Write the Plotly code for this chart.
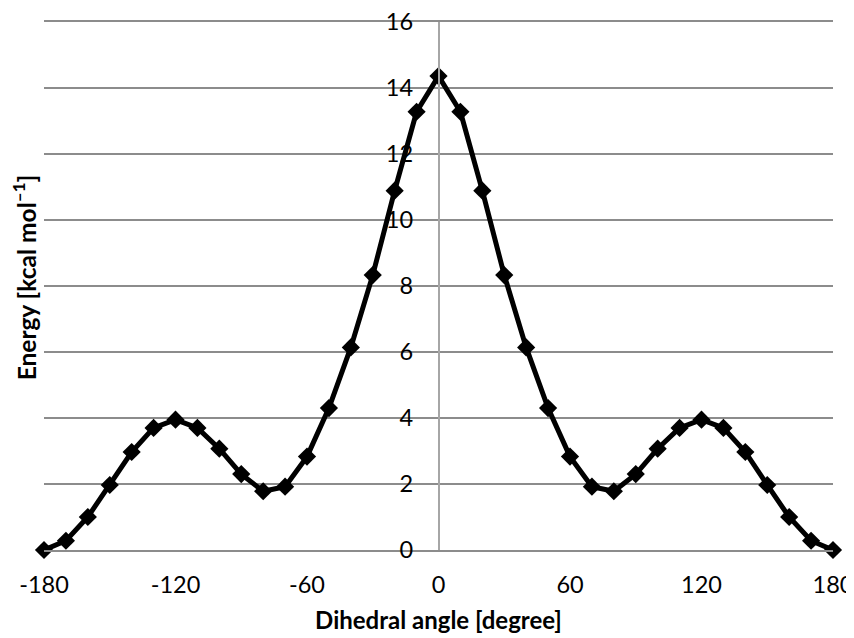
import plotly.graph_objects as go

# dihedral scan, every 10 degrees
angles = list(range(-180, 181, 10))
energy = [0.0, 0.28, 1.0, 1.97, 2.97, 3.7, 3.95, 3.7, 3.07, 2.3, 1.78, 1.92, 2.83,
          4.3, 6.14, 8.33, 10.89, 13.28, 14.36,
          13.28, 10.89, 8.33, 6.14, 4.3, 2.83, 1.92, 1.78, 2.3, 3.07, 3.7, 3.95,
          3.7, 2.97, 1.97, 1.0, 0.28, 0.0]

x_ticks = [-180, -120, -60, 0, 60, 120, 180]
y_ticks = [0, 2, 4, 6, 8, 10, 12, 14, 16]

font_name = "Lato, Open Sans, sans-serif"

fig = go.Figure(go.Scatter(
    x=angles,
    y=energy,
    mode="lines+markers",
    line=dict(color="black", width=5),
    marker=dict(symbol="diamond", size=14, color="black"),
    cliponaxis=False,
    showlegend=False,
))

# page body has an 8px margin, so the figure is 8px smaller than the window
fig.update_layout(
    width=846,
    height=630,
    margin=dict(l=36, r=21, t=14, b=88),
    paper_bgcolor="white",
    plot_bgcolor="white",
    font=dict(family=font_name, size=23.5, color="black"),
    xaxis=dict(
        range=[-180, 180],
        tickvals=x_ticks,
        ticktext=[str(v) for v in x_ticks],
        showgrid=False,
        zeroline=False,
        showline=True,
        mirror=True,
        linecolor="#8c8c8c",
        linewidth=2,
        ticks="outside",
        ticklen=0,
        ticklabelstandoff=13,
        ticklabeloverflow="allow",
        automargin=False,
        title=dict(text="<b>Dihedral angle [degree]</b>",
                   font=dict(family=font_name, size=24), standoff=15),
    ),
    yaxis=dict(
        range=[0, 16],
        tickvals=y_ticks,
        ticktext=[str(v) for v in y_ticks],
        showgrid=True,
        gridcolor="#8c8c8c",
        gridwidth=2,
        zeroline=False,
        anchor="free",
        position=0.5,
        showline=True,
        linecolor="#a6a6a6",
        linewidth=1.5,
        ticks="",
        ticklabelstandoff=20,
        ticklabeloverflow="allow",
        automargin=False,
    ),
    annotations=[dict(
        text="<b>Energy [kcal mol<sup>–1</sup>]</b>",
        xref="paper", yref="paper", x=-0.025, y=0.517,
        textangle=-90, showarrow=False,
        font=dict(family=font_name, size=24.5),
        xanchor="center", yanchor="middle",
    )],
)

fig.write_html("out.html")
